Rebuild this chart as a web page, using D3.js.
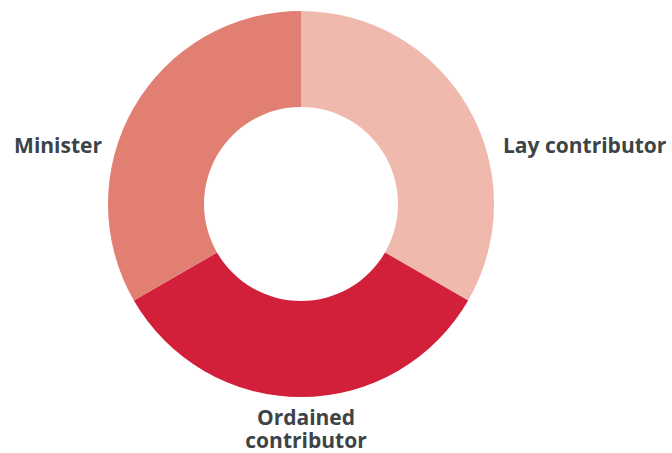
<!DOCTYPE html>
<html>
<head>
<meta charset="utf-8">
<script src="https://cdn.jsdelivr.net/npm/d3@7"></script>
<style>
  body { margin: 0; background: #fff; }
  text { font-family: "Open Sans", sans-serif; font-weight: bold; fill: #3d4447; }
</style>
</head>
<body>
<div id="chart"></div>
<script>
var categories = ["Lay contributor", "Ordained contributor", "Minister"],
    values = [1, 1, 1],
    colors = ["#f0b9ae", "#d21f3a", "#e27f73"];

var fullwidth = 672,
    fullheight = 453,
    cx = 301,
    cy = 204,
    outerR = 193,
    innerR = 97;

var svg = d3.select("#chart")
    .append("svg")
    .attr("width", fullwidth)
    .attr("height", fullheight);

var g = svg.append("g")
    .attr("transform", "translate(" + cx + "," + cy + ")");

var pie = d3.pie().sort(null).value(function(d) { return d; });
var arc = d3.arc().innerRadius(innerR).outerRadius(outerR);

var arcs = pie(values);

g.selectAll("path.slice")
    .data(arcs)
    .enter().append("path")
    .classed("slice", true)
    .attr("d", arc)
    .attr("fill", function(d, i) { return colors[i]; });

// labels, positioned outside the ring
var labelSpots = [
    {x: 202, y: -51, anchor: "start", lines: ["Lay contributor"]},
    {x: 5, y: 221, anchor: "middle", lines: ["Ordained", "contributor"]},
    {x: -199, y: -51, anchor: "end", lines: ["Minister"]}
];

g.selectAll("text.label")
    .data(labelSpots)
    .enter().append("text")
    .classed("label", true)
    .attr("text-anchor", function(d) { return d.anchor; })
    .style("font-size", "21px")
    .each(function(d) {
        var t = d3.select(this);
        d.lines.forEach(function(line, i) {
            t.append("tspan")
                .attr("x", d.x)
                .attr("y", d.y + i * 23)
                .text(line);
        });
    });
</script>
</body>
</html>
